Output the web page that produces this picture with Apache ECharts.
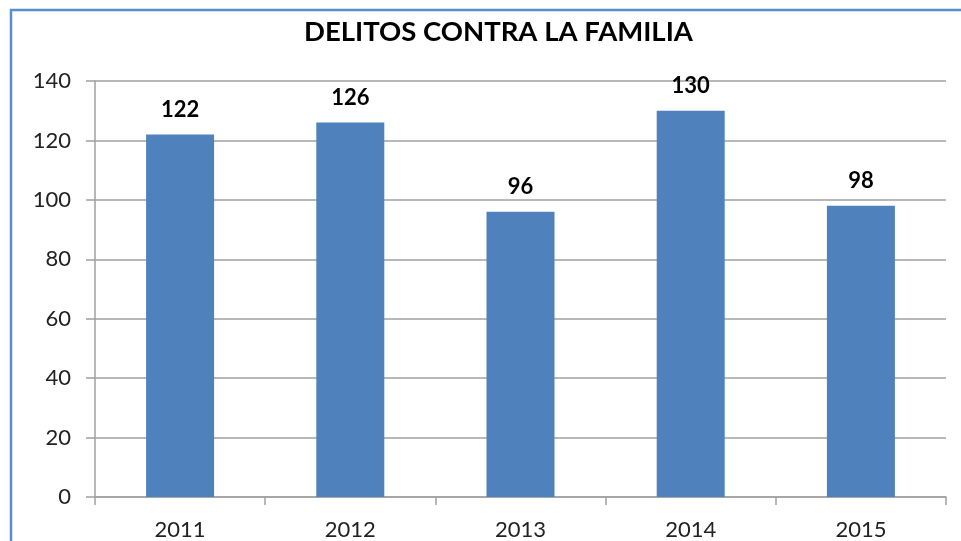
<!DOCTYPE html>
<html>
<head>
<meta charset="utf-8">
<script src="https://cdn.jsdelivr.net/npm/echarts@6/dist/echarts.min.js"></script>
<style>
  html, body { margin: 0; padding: 0; background: #fff; }
  #chart { width: 961px; height: 541px; }
</style>
</head>
<body>
<div id="chart"></div>
<script>
const years = ['2011', '2012', '2013', '2014', '2015'];
const delitos = [122, 126, 96, 130, 98];
const yTicks = { min: 0, max: 140, interval: 20 };

const chart = echarts.init(document.getElementById('chart'));
const font = 'Lato, "Open Sans", sans-serif';

chart.setOption({
  backgroundColor: '#fff',
  animation: false,
  title: {
    text: 'DELITOS CONTRA LA FAMILIA',
    left: 299,
    top: 13,
    textStyle: { fontFamily: font, fontSize: 27.5, fontWeight: 'bold', color: '#000' }
  },
  graphic: [{
    type: 'rect',
    shape: { x: 11, y: 10, width: 960, height: 540 },
    style: { fill: 'none', stroke: '#5b8bd0', lineWidth: 2.5 },
    silent: true
  }],
  grid: { left: 95, right: 15, top: 81, bottom: 44, containLabel: false },
  xAxis: {
    type: 'category',
    data: years,
    axisLine: { lineStyle: { color: '#a0a0a0', width: 1.5 } },
    axisTick: { show: true, length: 8, alignWithLabel: false, lineStyle: { color: '#a0a0a0', width: 1.5 } },
    axisLabel: { fontFamily: font, fontSize: 22, color: '#222', margin: 22 }
  },
  yAxis: {
    type: 'value',
    min: yTicks.min,
    max: yTicks.max,
    interval: yTicks.interval,
    axisLine: { show: true, lineStyle: { color: '#a0a0a0', width: 1.5 } },
    axisTick: { show: true, length: 9, lineStyle: { color: '#a0a0a0', width: 1.5 } },
    splitLine: { lineStyle: { color: '#a0a0a0', width: 1.5 } },
    axisLabel: { fontFamily: font, fontSize: 22, color: '#222', margin: 24 }
  },
  series: [{
    type: 'bar',
    data: delitos,
    barWidth: 68,
    itemStyle: { color: '#4f81bd' },
    label: {
      show: true,
      position: 'top',
      distance: 14,
      fontFamily: font,
      fontSize: 22,
      fontWeight: 'bold',
      color: '#000'
    }
  }]
});
</script>
</body>
</html>
